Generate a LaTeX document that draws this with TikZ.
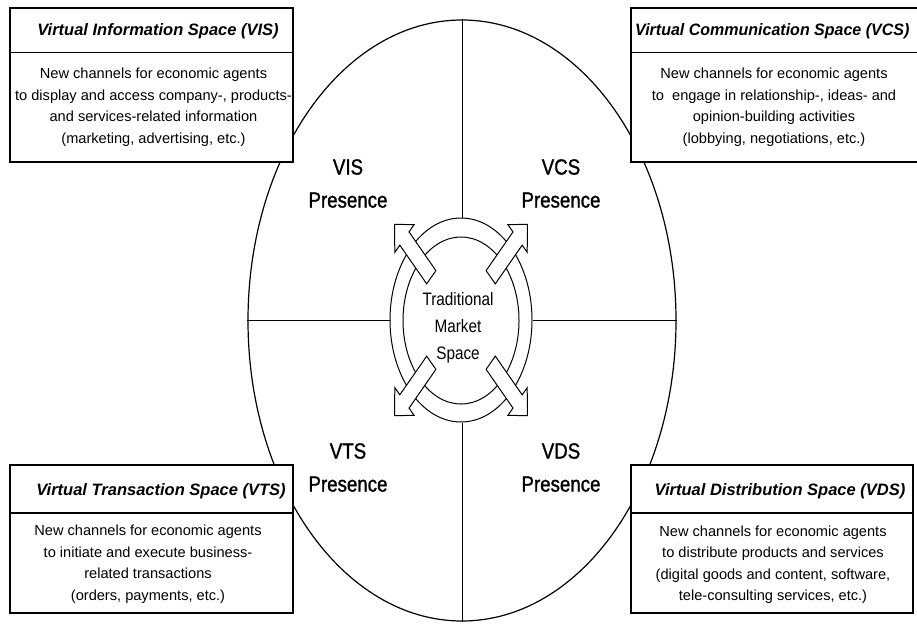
\documentclass[tikz,border=0pt]{standalone}
\usepackage{fontspec}
\setmainfont{Liberation Sans}
\newfontfamily\narrowfont[FakeStretch=0.85]{Liberation Sans}
\newfontfamily\heavynarrowfont[FakeStretch=0.85, FakeBold=1.2]{Liberation Sans}
\newfontfamily\tighttitlefont[FakeStretch=0.97]{Liberation Sans}
\usetikzlibrary{shapes.geometric}

\begin{document}
\begin{tikzpicture}[x=1pt, y=-1pt,
  outline/.style={draw, line width=1.2pt},
  ring/.style={ellipse, draw, line width=1pt, inner sep=0pt},
  crossline/.style={line width=1pt},
  blockarrow/.style={draw, fill=white, line width=1pt, line join=miter},
  spacebox/.style={draw, fill=white, line width=1.2pt},
  boxtitle/.style={inner sep=0pt, font=\fontsize{16.5}{20}\selectfont\bfseries\itshape},
  boxbody/.style={inner sep=0pt, align=center, font=\fontsize{14.6}{21.5}\selectfont},
  presence/.style={inner sep=0pt, align=center, font=\heavynarrowfont\fontsize{22}{33}\selectfont},
  core/.style={inner sep=0pt, align=center, font=\narrowfont\fontsize{18}{27}\selectfont}]

\useasboundingbox (0,0) rectangle (917,623);
\fill[white] (0,0) rectangle (917,623);
\clip (0,0) rectangle (917,623);

% outer market ellipse and the inner double ring
\node[ellipse, outline, inner sep=0pt, minimum width=428pt, minimum height=601pt] (market) at (462,320.5) {};
\node[ring, minimum width=142pt, minimum height=204pt] (ringout) at (461,320) {};
\node[ring, minimum width=116pt, minimum height=167pt] (ringin) at (461,320.5) {};

% quadrant dividers
\draw[crossline] (market.north) -- (market.north |- ringout.north);
\draw[crossline] (market.south) -- (market.south |- ringout.south);
\draw[crossline] (market.west) -- (ringout.west |- market.west);
\draw[crossline] (market.east) -- (ringout.east |- market.east);

% four diagonal block arrows leaving the centre
\begin{scope}[shift={(461,320)}, yscale=1.44]
  \foreach \a in {45,135,225,315} {
    \draw[blockarrow, rotate=\a]
      (42,-6.5) -- (80,-6.5) -- (80,-13.6) -- (94,0) -- (80,13.6) -- (80,6.5) -- (42,6.5) -- cycle;
  }
\end{scope}

\node[core] (tms) at (458,328) {Traditional\\Market\\Space};

\node[presence] (vis) at (348,183.5) {VIS\\Presence};
\node[presence] (vcs) at (561,183.5) {VCS\\Presence};
\node[presence] (vts) at (348,467.5) {VTS\\Presence};
\node[presence] (vds) at (561,467.5) {VDS\\Presence};

% top-left box
\draw[spacebox] (10,8) rectangle (293,162);
\draw[line width=1.2pt] (10,52.7) -- (293,52.7);
\node[boxtitle] (vistitle) at (158,31.5) {Virtual Information Space (VIS)};
\node[boxbody] (visbody) at (153.5,107.2) {New channels for economic agents\\to display and access company-, products-\\and services-related information\\(marketing, advertising, etc.)};

% top-right box, running off the right edge
\draw[spacebox] (631,8) rectangle (930,162);
\draw[line width=1.2pt] (631,52.5) -- (930,52.5);
\node[boxtitle, anchor=west, font=\tighttitlefont\fontsize{16.5}{20}\selectfont\bfseries\itshape] (vcstitle) at (635,31.5) {Virtual Communication Space (VCS)};
\node[boxbody] (vcsbody) at (774,107.2) {New channels for economic agents\\to\ \ engage in relationship-, ideas- and\\opinion-building activities\\(lobbying, negotiations, etc.)};

% bottom-left box
\draw[spacebox] (10,465) rectangle (293,613);
\draw[line width=1.2pt] (10,513) -- (293,513);
\node[boxtitle] (vtstitle) at (161,491) {Virtual Transaction Space (VTS)};
\node[boxbody] (vtsbody) at (148,564.2) {New channels for economic agents\\to initiate and execute business-\\related transactions\\(orders, payments, etc.)};

% bottom-right box
\draw[spacebox] (631,465) rectangle (913,613);
\draw[line width=1.2pt] (631,513) -- (913,513);
\node[boxtitle] (vdstitle) at (780,491) {Virtual Distribution Space (VDS)};
\node[boxbody] (vdsbody) at (773,564.5) {New channels for economic agents\\to distribute products and services\\(digital goods and content, software,\\tele-consulting services, etc.)};

\end{tikzpicture}
\end{document}
